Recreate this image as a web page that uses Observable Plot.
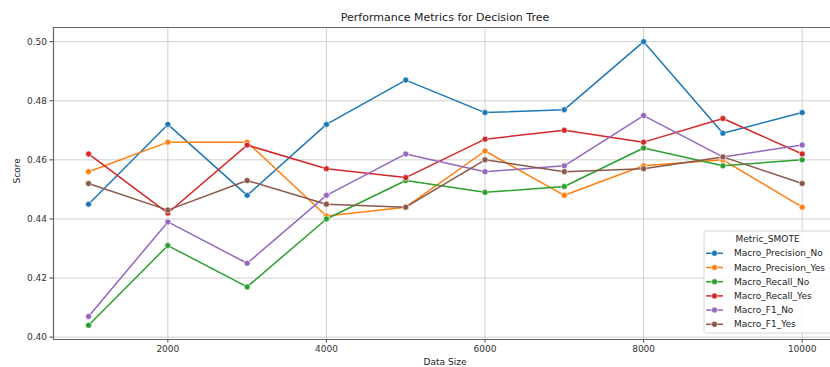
<!DOCTYPE html>
<html>
<head>
<meta charset="utf-8">
<script src="https://cdn.jsdelivr.net/npm/d3@7"></script>
<script src="https://cdn.jsdelivr.net/npm/@observablehq/plot@0.6"></script>
<style>
  html, body { margin: 0; padding: 0; background: #fff; }
  #chart svg { display: block; }
</style>
</head>
<body>
<div id="chart"></div>
<script>
const dataSizes = [1000, 2000, 3000, 4000, 5000, 6000, 7000, 8000, 9000, 10000];
const seriesNames = ["Macro_Precision_No", "Macro_Precision_Yes", "Macro_Recall_No", "Macro_Recall_Yes", "Macro_F1_No", "Macro_F1_Yes"];
const precisionNo  = [0.445, 0.472, 0.448, 0.472, 0.487, 0.476, 0.477, 0.500, 0.469, 0.476];
const precisionYes = [0.456, 0.466, 0.466, 0.441, 0.444, 0.463, 0.448, 0.458, 0.460, 0.444];
const recallNo     = [0.404, 0.431, 0.417, 0.440, 0.453, 0.449, 0.451, 0.464, 0.458, 0.460];
const recallYes    = [0.462, 0.442, 0.465, 0.457, 0.454, 0.467, 0.470, 0.466, 0.474, 0.462];
const f1No         = [0.407, 0.439, 0.425, 0.448, 0.462, 0.456, 0.458, 0.475, 0.461, 0.465];
const f1Yes        = [0.452, 0.443, 0.453, 0.445, 0.444, 0.460, 0.456, 0.457, 0.461, 0.452];
const xTicks = [2000, 4000, 6000, 8000, 10000];
const yTicks = [0.40, 0.42, 0.44, 0.46, 0.48, 0.50];
const colors = ["#1f77b4", "#ff7f0e", "#2ca02c", "#d62728", "#9467bd", "#8c564b"];

const allSeries = [precisionNo, precisionYes, recallNo, recallYes, f1No, f1Yes];
const rows = [];
allSeries.forEach((vals, si) => {
  vals.forEach((v, i) => rows.push({size: dataSizes[i], score: v, metric: seriesNames[si]}));
});

const W = 830, H = 367;
const font = "DejaVu Sans, sans-serif";

const plot = Plot.plot({
  width: W,
  height: H,
  marginLeft: 53,
  marginRight: 0,
  marginTop: 27,
  marginBottom: 28,
  style: {fontFamily: font, fontSize: "9px", color: "#333", background: "#fff"},
  x: {domain: [558, 10357], ticks: xTicks, label: null},
  y: {domain: [0.3992, 0.5048], ticks: yTicks, label: null},
  color: {domain: seriesNames, range: colors},
  marks: [
    Plot.gridX(xTicks, {stroke: "#cfcfcf", strokeOpacity: 1, strokeWidth: 1}),
    Plot.gridY(yTicks, {stroke: "#cfcfcf", strokeOpacity: 1, strokeWidth: 1}),
    Plot.axisX(xTicks, {tickSize: 3.5, tickPadding: 3, stroke: "#444", fill: "#333", fontSize: 9, tickFormat: d => String(d), label: null}),
    Plot.axisY(yTicks, {tickSize: 3.5, tickPadding: 3, stroke: "#444", fill: "#333", fontSize: 9, tickFormat: d3.format(".2f"), label: null}),
    Plot.frame({anchor: "left", stroke: "#666", strokeWidth: 1.2}),
    Plot.frame({anchor: "bottom", stroke: "#666", strokeWidth: 1.2}),
    Plot.frame({anchor: "top", stroke: "#666", strokeWidth: 1.2}),
    Plot.line(rows, {x: "size", y: "score", stroke: "metric", z: "metric", strokeWidth: 1.5}),
    Plot.dot(rows, {x: "size", y: "score", fill: "metric", stroke: "white", strokeWidth: 0.6, r: 3}),
    Plot.text(["Performance Metrics for Decision Tree"], {frameAnchor: "top", lineAnchor: "middle", dy: -10, dx: 3, fontSize: 11, fill: "#222"}),
    Plot.text(["Data Size"], {frameAnchor: "bottom", lineAnchor: "middle", dy: 23, dx: 3, fontSize: 9, fill: "#222"}),
    Plot.text(["Score"], {frameAnchor: "left", dx: -36, rotate: -90, fontSize: 9, fill: "#222"})
  ]
});

document.getElementById("chart").appendChild(plot);

// Legend (matplotlib-style box at lower right of axes)
const svg = d3.select(plot);
const lg = svg.append("g").attr("font-family", font).attr("font-size", 9).attr("text-anchor", "start");
lg.append("rect")
  .attr("x", 704).attr("y", 231).attr("width", 140).attr("height", 102)
  .attr("rx", 2.5).attr("fill", "white").attr("fill-opacity", 0.85)
  .attr("stroke", "#d6d6d6").attr("stroke-width", 1);
lg.append("text").attr("x", 767.5).attr("y", 239).attr("dy", "0.35em")
  .attr("text-anchor", "middle").attr("fill", "#222").text("Metric_SMOTE");
seriesNames.forEach((name, i) => {
  const cy = 253.3 + i * 14.2;
  lg.append("line").attr("x1", 706).attr("x2", 723).attr("y1", cy).attr("y2", cy)
    .attr("stroke", colors[i]).attr("stroke-width", 1.5);
  lg.append("circle").attr("cx", 714.5).attr("cy", cy).attr("r", 3)
    .attr("fill", colors[i]).attr("stroke", "white").attr("stroke-width", 0.6);
  lg.append("text").attr("x", 734).attr("y", cy).attr("dy", "0.35em")
    .attr("text-anchor", "start").attr("fill", "#222").text(name);
});
</script>
</body>
</html>
